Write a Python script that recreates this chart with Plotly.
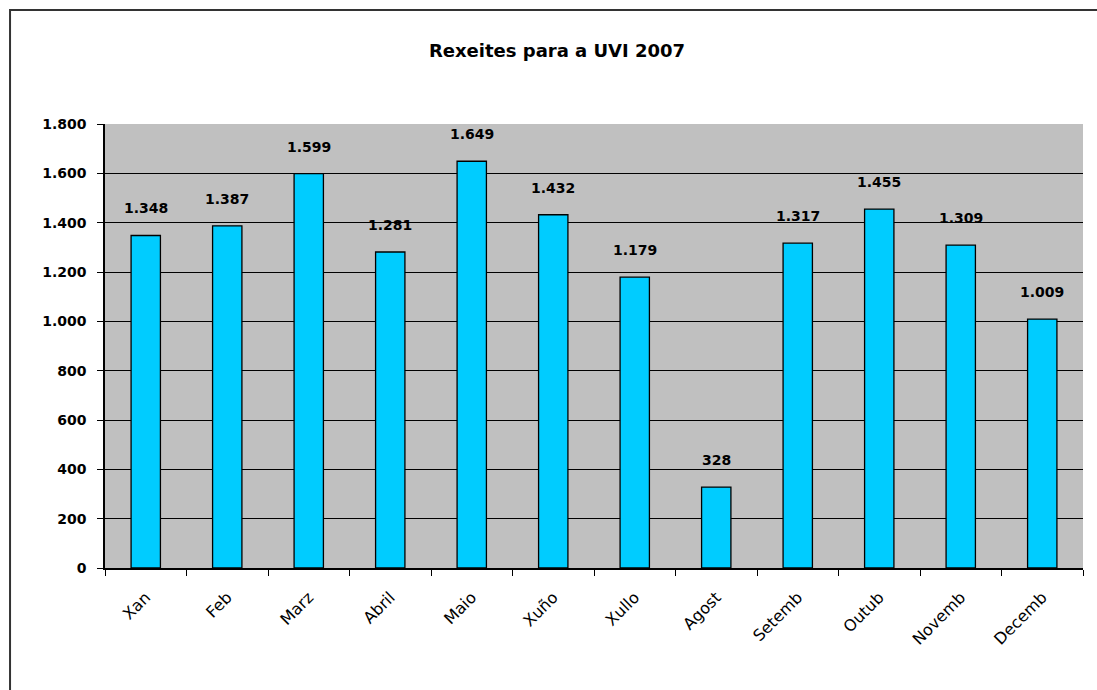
import plotly.graph_objects as go

months = ["Xan", "Feb", "Marz", "Abril", "Maio", "Xuño", "Xullo", "Agost",
          "Setemb", "Outub", "Novemb", "Decemb"]
values = [1348, 1387, 1599, 1281, 1649, 1432, 1179, 328, 1317, 1455, 1309, 1009]
title_text = "Rexeites para a UVI 2007"
y_ticks = [0, 200, 400, 600, 800, 1000, 1200, 1400, 1600, 1800]

FONT = "DejaVu Sans"

fig = go.Figure()
fig.add_trace(go.Bar(
    x=months, y=values,
    marker=dict(color="#00CCFF", line=dict(color="#000000", width=1.3)),
    width=0.36,
    hoverinfo="x+y",
))

for m, v in zip(months, values):
    fig.add_annotation(
        x=m, y=v, text=f"<b>{v:,}</b>".replace(",", "."),
        showarrow=False, yshift=27, yanchor="middle",
        font=dict(family=FONT, size=14, color="#000000"),
    )

# outer chart border
fig.add_shape(type="rect", xref="paper", yref="paper",
              x0=-0.0971, x1=1.03, y0=-0.35, y1=1.2568,
              line=dict(color="#333333", width=2), fillcolor="rgba(0,0,0,0)")

fig.update_layout(
    width=1097, height=690,
    margin=dict(l=105, r=14, t=124, b=122),
    paper_bgcolor="#FFFFFF",
    plot_bgcolor="#C0C0C0",
    separators=",.",
    showlegend=False,
    title=dict(text="<b>" + title_text + "</b>", x=557 / 1097, xanchor="center",
               y=1 - 51 / 690, yanchor="middle",
               font=dict(family=FONT, size=18, color="#000000")),
    xaxis=dict(
        type="category", tickson="boundaries", ticks="outside", ticklen=6,
        tickcolor="#000000", tickangle=-45, ticklabelstandoff=12,
        showline=True, linecolor="#000000", linewidth=1.5,
        showgrid=False,
        tickfont=dict(family=FONT, size=16, color="#000000"),
    ),
    yaxis=dict(
        range=[0, 1800], tickvals=y_ticks, tickformat=",d",
        ticks="outside", ticklen=6, tickcolor="#000000", ticklabelstandoff=8,
        showline=True, linecolor="#000000", linewidth=1.5,
        showgrid=True, gridcolor="#000000", gridwidth=1,
        zeroline=False,
        tickfont=dict(family=FONT, size=14, color="#000000", weight="bold"),
    ),
)

fig.write_html("out.html", config={"displayModeBar": False},
               post_script="document.body.style.margin='0';document.body.style.overflow='hidden';")
